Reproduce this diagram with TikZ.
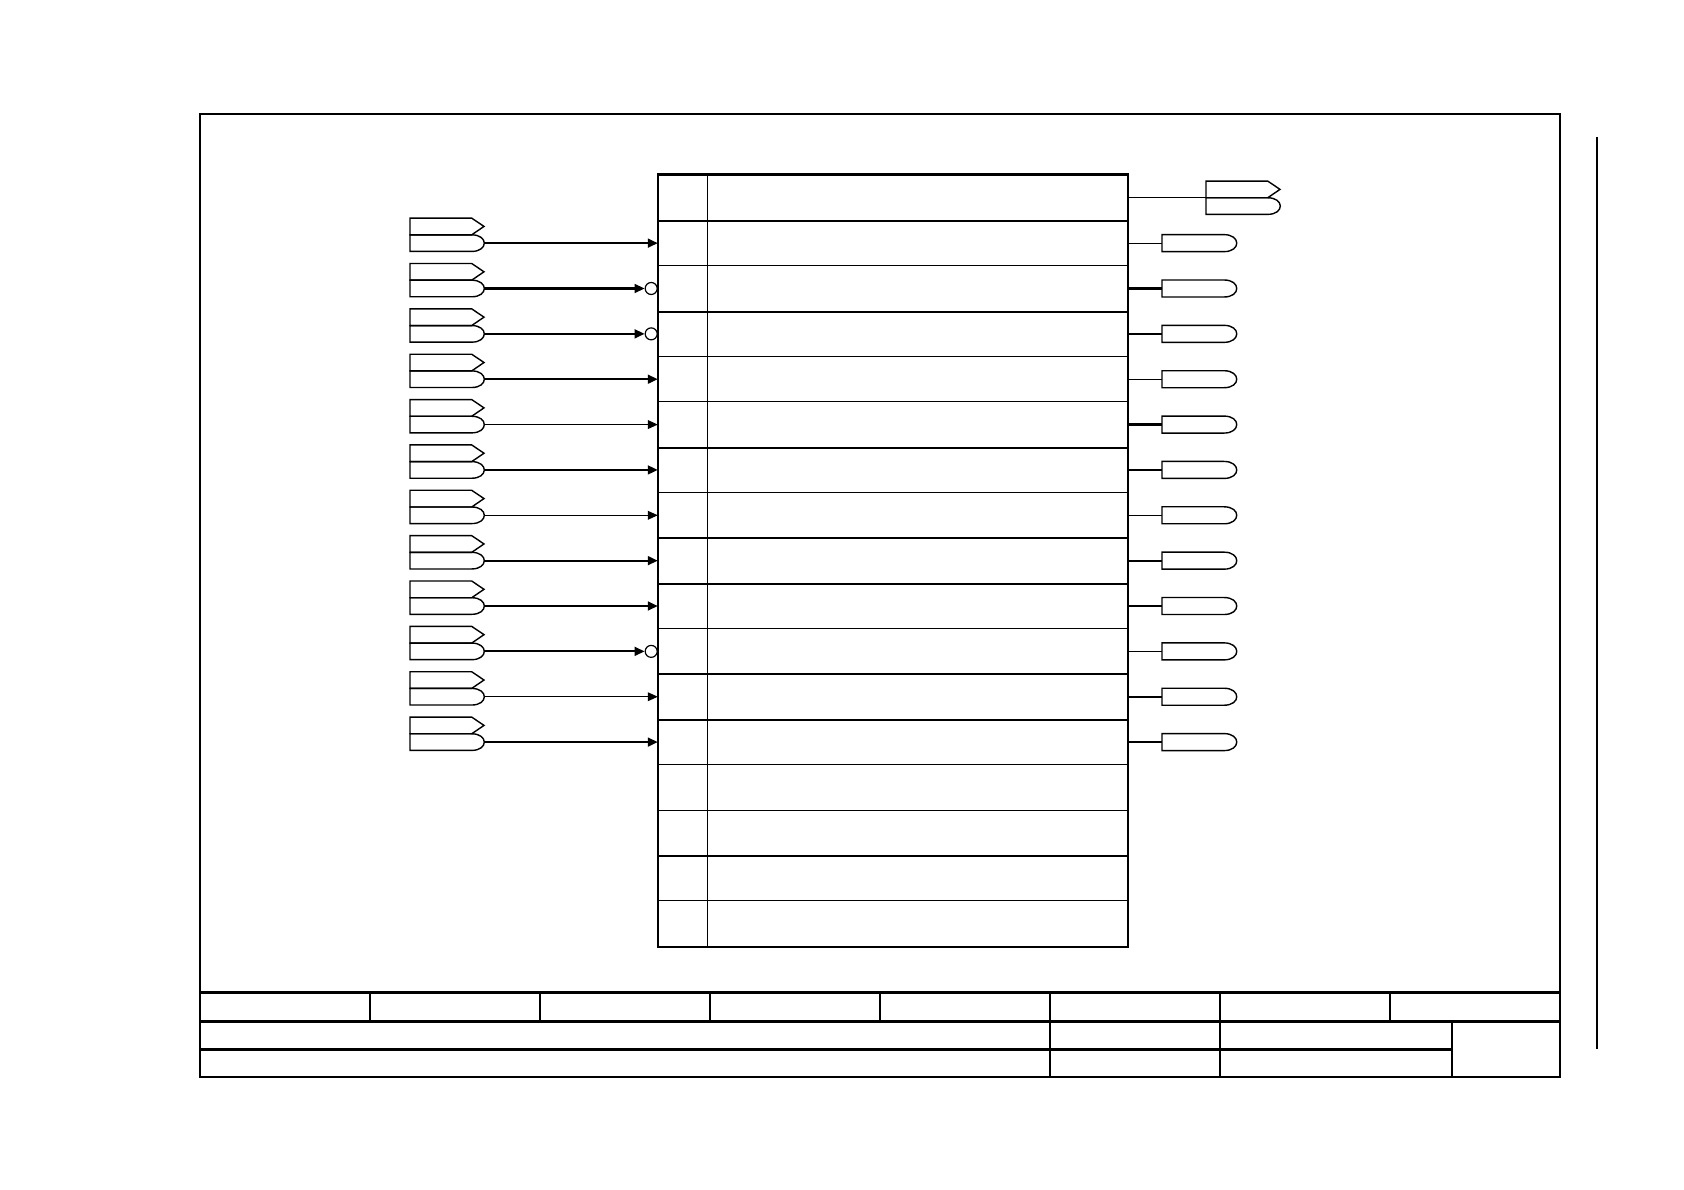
\documentclass[tikz,border=0pt]{standalone}
\usepackage{tikz}
\usetikzlibrary{arrows.meta, calc}

\begin{document}
\begin{tikzpicture}[
  x=0.5bp, y=-0.5bp,
  >={Triangle[length=5bp, width=4.4bp]},
  heavy/.style={line width=1.2bp},
  bold/.style={line width=1.1bp},
  fine/.style={line width=0.6bp},
  sigthick/.style={->, line width=1.1bp},
  sigthin/.style={->, line width=0.55bp},
  port/.style={line width=0.7bp},
  rowcell/.style={rectangle, draw, fine, minimum width=234.65bp, minimum height=22.68bp, inner sep=0pt},
  negcirc/.style={circle, draw, fine, minimum size=6bp, inner sep=0pt, anchor=east},
  tagport/.pic={
    \draw[port] (0,-25) -- (61.7,-25) -- (74,-16.7) -- (61.7,-8.3) -- (0,-8.3) -- cycle;
    \draw[port] (0,-8.3) -- (61.7,-8.3) .. controls (78.5,-8.3) and (78.5,8.3) .. (61.7,8.3) -- (0,8.3) -- cycle;
    \coordinate (-out) at (74,0);
    \coordinate (-mid) at (0,-8.3);
  },
  capport/.pic={
    \draw[port] (0,-8.5) -- (62,-8.5) .. controls (79,-8.5) and (79,8.5) .. (62,8.5) -- (0,8.5) -- cycle;
    \coordinate (-in) at (0,0);
  }
]
  \useasboundingbox (0,0) rectangle (1684,1190);

  \draw[heavy] (200,114) rectangle (1560,1077);
  \draw[heavy] (200,992.4) -- (1560,992.4);
  \draw[heavy] (200,1021.4) -- (1560,1021.4);
  \draw[heavy] (200,1049.3) -- (1452,1049.3);
  \foreach \x in {370,540,...,1390}
    \draw[heavy] (\x,992.4) -- (\x,1021.4);
  \foreach \x in {1050,1220,1452}
    \draw[heavy] (\x,1021.4) -- (\x,1077);
  \draw[fine] (1597,137) -- (1597,1049.3);

  \foreach \i in {1,...,17}
    \node[rowcell] (r\i) at (893.05,{152.42+45.36*\i}) {};
  \foreach \i in {1,3,6,9,12,15}
    \draw[bold] (r\i.south west) -- (r\i.south east);
  \draw[bold] (r1.north west) rectangle (r17.south east);
  \draw[fine] ($(r1.north west)+(49.4,0)$) -- ($(r17.south west)+(49.4,0)$);

  \foreach \i in {2,...,13}
    \pic (in\i) at (410,{152.42+45.36*\i}) {tagport};
  \foreach \i in {3,4,11}
    \node[negcirc] (n\i) at (r\i.west) {};
  \foreach \i in {2,5,7,9,10,13}
    \draw[sigthick] (in\i-out) -- (r\i.west);
  \foreach \i in {6,8,12}
    \draw[sigthin] (in\i-out) -- (r\i.west);
  \foreach \i in {3,4,11}
    \draw[sigthick] (in\i-out) -- (n\i.west);

  \pic (out1) at (1206,{152.42+45.36+8.3}) {tagport};
  \draw[fine] (r1.east) -- (out1-mid);
  \foreach \i in {2,...,13}
    \pic (out\i) at (1162,{152.42+45.36*\i}) {capport};
  \foreach \i in {3,4,6,9,12}
    \draw[bold] (r\i.east) -- (out\i-in);
  \foreach \i in {2,5,7,8,10,11,13}
    \draw[fine] (r\i.east) -- (out\i-in);
\end{tikzpicture}
\end{document}
